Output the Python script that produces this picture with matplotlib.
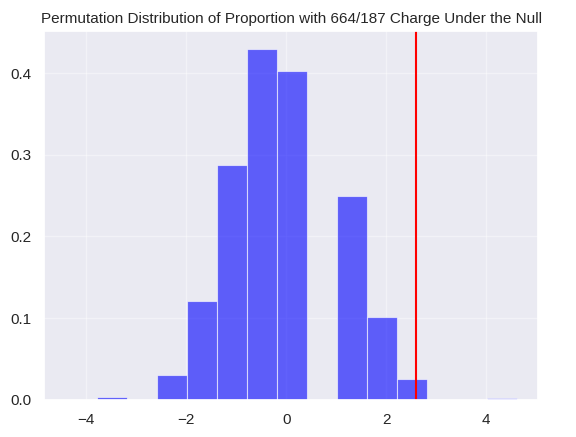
import matplotlib
matplotlib.use("Agg")
import matplotlib.pyplot as plt
import seaborn as sns
import numpy as np

sns.set_theme(style="darkgrid")
plt.rcParams['font.family'] = ['Liberation Sans', 'DejaVu Sans']

bin_edges = [-3.78, -3.18, -2.58, -1.98, -1.38, -0.78, -0.18, 0.42, 1.02, 1.62, 2.22, 2.82, 3.42, 4.02, 4.62]
densities = [0.004, 0.0, 0.031, 0.121, 0.287, 0.430, 0.403, 0.0, 0.249, 0.102, 0.026, 0.0, 0.0, 0.002]
observed = 2.6

fig, ax = plt.subplots(figsize=(5.76, 4.37), dpi=100)
edges = np.array(bin_edges)
ax.bar(edges[:-1], densities, width=np.diff(edges), align="edge",
       color="blue", alpha=0.6, edgecolor="white", linewidth=0.8)
ax.axvline(observed, color="red")
ax.set_xlim(-4.84, 5.04)
ax.set_xticks([-4, -2, 0, 2, 4])
ax.grid(alpha=0.4)
ax.set_title("Permutation Distribution of Proportion with 664/187 Charge Under the Null", fontsize=11)
fig.subplots_adjust(left=0.077, right=0.934, top=0.929, bottom=0.085)
fig.savefig("out.png")
